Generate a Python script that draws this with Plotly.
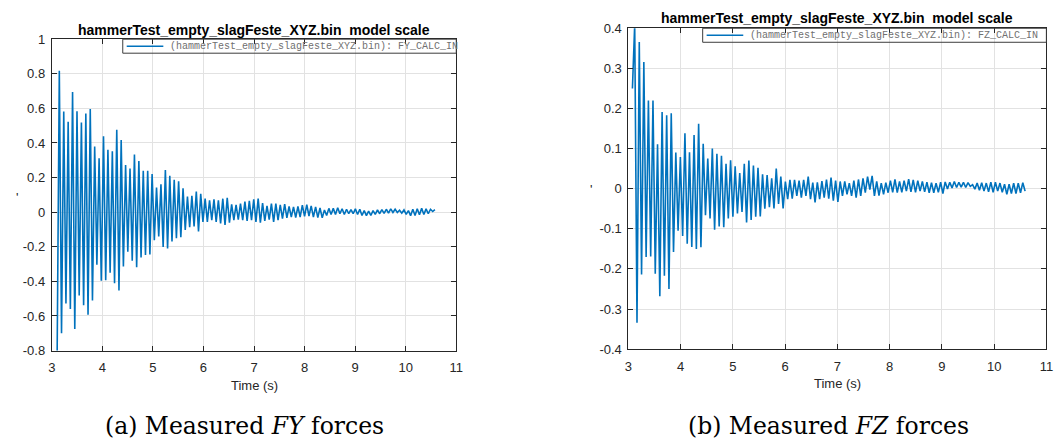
import numpy as np
import plotly.graph_objects as go

# ---------------- data ----------------
# Hammer test, lateral (FY) force: alternating trough / peak values of each cycle
fy_troughs = [
    -0.85, -0.700, -0.528, -0.560, -0.675, -0.482, -0.538, -0.593, -0.510, -0.303,
    -0.396, -0.393, -0.350, -0.411, -0.452, -0.314, -0.229, -0.281, -0.318, -0.262,
    -0.247, -0.244, -0.162, -0.141, -0.201, -0.210, -0.169, -0.151, -0.145, -0.102,
    -0.087,
    -0.083, -0.111, -0.056, -0.056, -0.046, -0.056, -0.065, -0.074, -0.061, -0.046,
    -0.043, -0.046, -0.050, -0.046, -0.056, -0.061, -0.050, -0.043, -0.056, -0.046,
    -0.037, -0.033, -0.028, -0.031, -0.028, -0.024, -0.022, -0.028, -0.031, -0.033,
    -0.019, -0.013, -0.013, -0.009, -0.013, -0.009, -0.009, -0.013, -0.019, -0.020,
    -0.019, -0.013, -0.009, -0.007, -0.006, -0.002, -0.002, -0.006, -0.013, -0.020,
    -0.019, -0.015, -0.013, -0.009, 0.004,
]
fy_peaks = [
    0.817, 0.582, 0.523, 0.694, 0.584, 0.519, 0.571, 0.597, 0.380, 0.311,
    0.439, 0.361, 0.352, 0.476, 0.417, 0.272, 0.253, 0.333, 0.296, 0.240,
    0.240, 0.221, 0.143, 0.162, 0.244, 0.210, 0.188, 0.179, 0.138, 0.091,
    0.095,
    0.120, 0.106, 0.078, 0.069, 0.074, 0.069, 0.078, 0.083, 0.046, 0.043,
    0.050, 0.061, 0.065, 0.074, 0.078, 0.052, 0.037, 0.050, 0.050, 0.043,
    0.046, 0.033, 0.031, 0.033, 0.041, 0.044, 0.037, 0.031, 0.024, 0.013,
    0.022, 0.022, 0.026, 0.020, 0.017, 0.015, 0.019, 0.017, 0.009, 0.006,
    0.009, 0.013, 0.015, 0.017, 0.019, 0.017, 0.011, 0.013, 0.009, 0.017,
    0.020, 0.022, 0.019, 0.017, 0.015,
]

# Vertical (FZ) force: value at trigger, then alternating peak / trough values
fz_start = 0.25
fz_peaks = [
    0.41, 0.366, 0.316, 0.220, 0.220, 0.111, 0.191, 0.183, 0.188, 0.090,
    0.079, 0.138, 0.091, 0.134, 0.162, 0.112, 0.075, 0.100, 0.087, 0.082,
    0.062, 0.071, 0.056, 0.039, 0.062, 0.070, 0.058, 0.052, 0.036, 0.034,
    0.026, 0.050, 0.030, 0.018, 0.022, 0.022, 0.020, 0.022, 0.030, 0.015,
    0.016, 0.019, 0.023, 0.028, 0.020, 0.018, 0.018, 0.014, 0.020, 0.023,
    0.026, 0.030, 0.032, 0.018, 0.014, 0.015, 0.020, 0.023, 0.018, 0.020,
    0.024, 0.022, 0.020, 0.018, 0.016, 0.015, 0.014, 0.016, 0.017, 0.016,
    0.018, 0.016, 0.016, 0.015, 0.010, 0.014, 0.015, 0.014, 0.016, 0.016,
    0.014, 0.011, 0.011, 0.014, 0.014, 0.015,
]
fz_troughs = [
    -0.334, -0.214, -0.170, -0.169, -0.212, -0.268, -0.217, -0.250, -0.158, -0.105,
    -0.118, -0.137, -0.145, -0.150, -0.146, -0.066, -0.074, -0.102, -0.094, -0.096,
    -0.074, -0.070, -0.062, -0.058, -0.084, -0.078, -0.070, -0.069, -0.050,
    -0.046, -0.049, -0.038, -0.049, -0.026, -0.025, -0.018, -0.022, -0.018, -0.026,
    -0.034, -0.026, -0.022, -0.025, -0.030, -0.033, -0.018, -0.014, -0.018, -0.022,
    -0.018, -0.010, -0.002, -0.018, -0.017, -0.014, -0.010, -0.009, -0.010, -0.009,
    -0.006, -0.008, -0.009, -0.006, -0.008, -0.010, -0.010, -0.009, -0.012, -0.001,
    0.002, 0.003, 0.004, 0.003, 0.006, -0.001, -0.004, -0.006, -0.008, -0.009,
    -0.006, -0.009, -0.014, -0.012, -0.012, -0.010, -0.006,
]

# sampling of the extrema (half an oscillation period apart)
FY_T0 = 3.105
FZ_T0 = 3.076
HALF_PERIOD = 0.0437

# axes ticks
x_ticks = [3, 4, 5, 6, 7, 8, 9, 10, 11]
fy_ticks = [1, 0.8, 0.6, 0.4, 0.2, 0, -0.2, -0.4, -0.6, -0.8]
fy_ticktext = ["1", "0.8", "0.6", "0.4", "0.2", "0", "-0.2", "-0.4", "-0.6", "-0.8"]
fz_ticks = [0.4, 0.3, 0.2, 0.1, 0, -0.1, -0.2, -0.3, -0.4]
fz_ticktext = ["0.4", "0.3", "0.2", "0.1", "0", "-0.1", "-0.2", "-0.3", "-0.4"]

plot_title = "hammerTest_empty_slagFeste_XYZ.bin  model scale"
fy_name = "(hammerTest_empty_slagFeste_XYZ.bin): FY_CALC_IN"
fz_name = "(hammerTest_empty_slagFeste_XYZ.bin): FZ_CALC_IN"


def interleave(a, b):
    out = []
    for u, v in zip(a, b):
        out += [u, v]
    return out


fy_vals = interleave(fy_troughs, fy_peaks)
fy_t = FY_T0 + HALF_PERIOD * np.arange(len(fy_vals))
fz_vals = [fz_start] + interleave(fz_peaks, fz_troughs)
fz_t = FZ_T0 + HALF_PERIOD * np.arange(len(fz_vals))

# ---------------- figure ----------------
W, H = 1061, 448
LINE = "#0072BD"
DARK = "#262626"
LW = 1.6


def px_x(v):
    return v / W


def px_y(v):
    return 1 - v / H


# axes boxes in pixels, legend box left edge, title top, caption centre
L = dict(x0=48.3, x1=457.0, top=33.3, bottom=355.5, leg=120.0, title_top=13,
         cap_x=243, cap="(a) Measured ", sym="FY", name=fy_name)
R = dict(x0=631.0, x1=1053.3, top=22.0, bottom=354.0, leg=706.0, title_top=1.5,
         cap_x=833, cap="(b) Measured ", sym="FZ", name=fz_name)

fig = go.Figure()
fig.add_trace(go.Scatter(x=fy_t, y=fy_vals, mode="lines", name=fy_name,
                         line=dict(color=LINE, width=LW), xaxis="x", yaxis="y"))
fig.add_trace(go.Scatter(x=fz_t, y=fz_vals, mode="lines", name=fz_name,
                         line=dict(color=LINE, width=LW), xaxis="x2", yaxis="y2"))

axis_style = dict(
    showline=True, linecolor=DARK, linewidth=1, mirror="ticks",
    ticks="inside", ticklen=5, tickcolor=DARK, tickwidth=1,
    showgrid=True, gridcolor="#e2e2e2", gridwidth=1, zeroline=False,
    tickfont=dict(family="Liberation Sans", size=13, color=DARK),
)

fig.update_layout(
    width=W, height=H,
    margin=dict(l=0, r=0, t=0, b=0),
    paper_bgcolor="white", plot_bgcolor="white",
    showlegend=False,
    xaxis=dict(domain=[px_x(L["x0"]), px_x(L["x1"])], range=[3, 11],
               tickvals=x_ticks, ticktext=[str(v) for v in x_ticks],
               anchor="y", ticklabelstandoff=5, **axis_style),
    yaxis=dict(domain=[px_y(L["bottom"]), px_y(L["top"])], range=[-0.8, 1],
               tickvals=fy_ticks, ticktext=fy_ticktext, anchor="x",
               ticklabelstandoff=3, **axis_style),
    xaxis2=dict(domain=[px_x(R["x0"]), px_x(R["x1"])], range=[3, 11],
                tickvals=x_ticks, ticktext=[str(v) for v in x_ticks],
                anchor="y2", ticklabelstandoff=5, **axis_style),
    yaxis2=dict(domain=[px_y(R["bottom"]), px_y(R["top"])], range=[-0.4, 0.4],
                tickvals=fz_ticks, ticktext=fz_ticktext, anchor="x2",
                ticklabelstandoff=3, **axis_style),
)

annotations = []
shapes = []
for box in (L, R):
    cx = px_x((box["x0"] + box["x1"]) / 2)
    annotations.append(dict(
        x=cx, y=px_y(box["title_top"]), xref="paper", yref="paper", showarrow=False,
        text="<b>" + plot_title + "</b>", xanchor="center", yanchor="top",
        font=dict(family="Liberation Sans", size=14, color="black")))
    annotations.append(dict(
        x=cx, y=px_y(box["bottom"] + 26), xref="paper", yref="paper", showarrow=False,
        text="Time (s)", xanchor="center", yanchor="top",
        font=dict(family="Liberation Sans", size=13, color=DARK)))
    annotations.append(dict(
        x=px_x(box["cap_x"]), y=px_y(417), xref="paper", yref="paper", showarrow=False,
        text=box["cap"] + "<i>" + box["sym"] + "</i> forces", xanchor="center", yanchor="top",
        font=dict(family="DejaVu Serif", size=23.5, color="black")))
    # legend: outlined box, line sample and series name
    leg_bottom = box["top"] + 14.5
    shapes.append(dict(type="rect", xref="paper", yref="paper",
                       x0=px_x(box["leg"]), x1=px_x(box["x1"]),
                       y0=px_y(leg_bottom), y1=px_y(box["top"]),
                       line=dict(color="#3c3c3c", width=1), fillcolor="rgba(0,0,0,0)"))
    ly = px_y(box["top"] + 7.3)
    shapes.append(dict(type="line", xref="paper", yref="paper",
                       x0=px_x(box["leg"] + 4), x1=px_x(box["leg"] + 41), y0=ly, y1=ly,
                       line=dict(color=LINE, width=LW)))
    annotations.append(dict(
        x=px_x(box["leg"] + 45.5), y=ly, xref="paper", yref="paper", showarrow=False,
        text=box["name"], xanchor="left", yanchor="middle",
        font=dict(family="Liberation Mono", size=10, color="#707070")))

annotations.append(dict(x=px_x(10), y=px_y(197), xref="paper", yref="paper", showarrow=False,
                        text="'", font=dict(family="Liberation Sans", size=13, color=DARK)))
annotations.append(dict(x=px_x(593), y=px_y(189), xref="paper", yref="paper", showarrow=False,
                        text="'", font=dict(family="Liberation Sans", size=13, color=DARK)))
fig.update_layout(annotations=annotations, shapes=shapes)

fig.write_html("out.html")
